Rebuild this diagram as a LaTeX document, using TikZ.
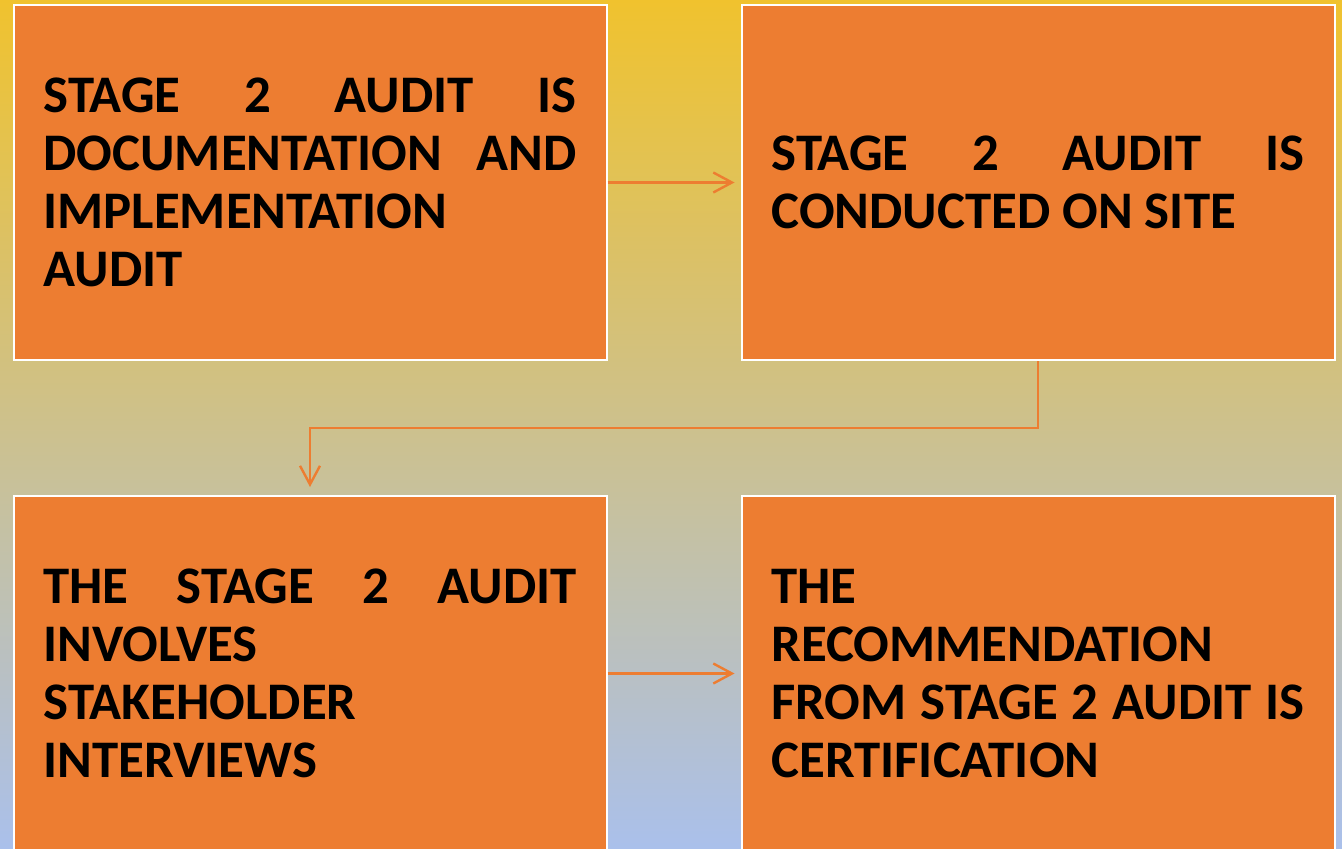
\documentclass[tikz,border=0pt]{standalone}
\usepackage{fontspec}
\setmainfont{Carlito}
\usetikzlibrary{arrows.meta}
\definecolor{boxorange}{RGB}{237,125,49}
\definecolor{bgtop}{RGB}{240,194,46}
\definecolor{bgbot}{RGB}{170,192,235}
\begin{document}
\begin{tikzpicture}[x=0.75pt,y=-0.75pt,
  stagebox/.style={draw=white, line width=1.5pt, fill=boxorange,
    minimum width=593*0.75pt, minimum height=355*0.75pt,
    text width=533*0.75pt, align=justify, inner sep=0pt,
    font=\fontsize{39.6pt}{43.5pt}\selectfont\bfseries\sloppy},
  flow/.style={draw=boxorange, line width=1.8pt,
    -{Straight Barb[length=14pt,width=15pt,line width=1.8pt]}}]
\useasboundingbox (0,0) rectangle (1342,849);
\clip (0,0) rectangle (1342,849);
\shade[top color=bgtop, bottom color=bgbot] (0,0) rectangle (1342,849);
\node[stagebox] (b1) at (310,182.5) {STAGE~2~AUDIT~IS\linebreak DOCUMENTATION~AND\linebreak IMPLEMENTATION\linebreak AUDIT};
\node[stagebox] (b2) at (1038,182.5) {STAGE~2~AUDIT~IS\linebreak CONDUCTED~ON~SITE};
\node[stagebox] (b3) at (310,673.5) {THE~STAGE~2~AUDIT\linebreak INVOLVES\linebreak STAKEHOLDER\linebreak INTERVIEWS};
\node[stagebox] (b4) at (1038,673.5) {THE\linebreak RECOMMENDATION\linebreak FROM~STAGE~2~AUDIT~IS\linebreak CERTIFICATION};
\draw[flow, shorten >=4.5pt] (b1.east) -- (b2.west);
\draw[flow, shorten >=6pt] (b2.south) -- ++(0,67) coordinate (elb) -| (b3.north);
\draw[flow, shorten >=4.5pt] (b3.east) -- (b4.west);
\end{tikzpicture}
\end{document}
